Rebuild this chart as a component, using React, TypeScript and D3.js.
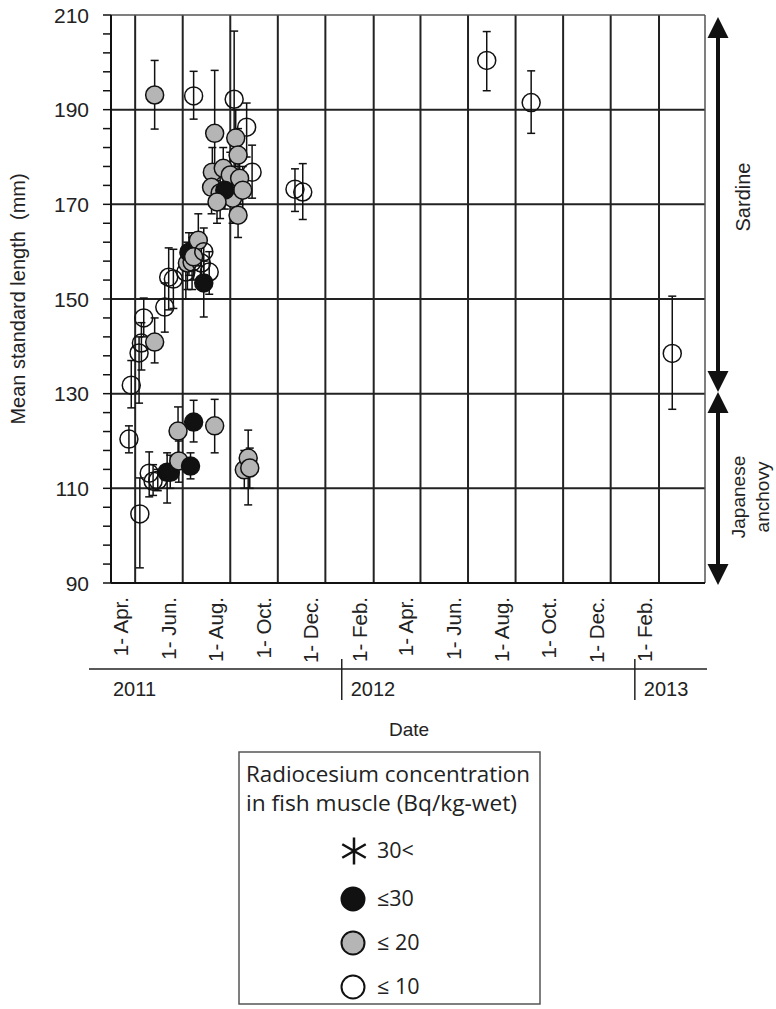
import React from "react";
import * as d3 from "d3";

// ---- data ----
const pointDates = [
  "2011-03-27", "2011-04-06", "2011-04-09", "2011-04-12", "2011-04-26", "2011-05-09", "2011-05-14",
  "2011-05-20", "2011-06-05", "2011-06-07", "2011-06-09", "2011-06-13", "2011-06-21", "2011-06-25",
  "2011-06-28", "2011-07-05", "2011-06-15", "2011-04-26", "2011-07-12", "2011-08-06", "2011-08-22",
  "2011-08-29", "2011-08-08", "2011-08-11", "2011-07-09", "2011-07-23", "2011-08-01", "2011-08-13",
  "2011-07-08", "2011-07-19", "2011-08-04", "2011-08-17", "2011-07-25", "2011-08-11", "2011-07-15",
  "2011-06-15", "2011-06-28", "2011-10-23", "2011-11-02", "2012-06-25", "2012-08-21", "2013-02-18",
  "2011-03-24", "2011-04-07", "2011-04-19", "2011-04-24", "2011-04-30", "2011-05-12", "2011-05-16",
  "2011-05-27", "2011-05-26", "2011-06-11", "2011-06-15", "2011-07-12", "2011-08-19", "2011-08-24",
  "2011-08-26",
];
const meanLengths = [
  131.8, 138.6, 140.7, 146.0, 140.9, 148.3, 154.6,
  154.2, 155.7, 157.6, 159.9, 157.8, 162.4, 157.6,
  153.4, 155.7, 192.9, 193.1, 185.0, 192.2, 186.3,
  176.8, 184.0, 180.4, 176.8, 177.6, 176.2, 175.5,
  173.6, 172.4, 171.3, 173.0, 173.0, 167.7, 170.5,
  158.9, 160.0, 173.2, 172.6, 200.4, 191.5, 138.5,
  120.4, 104.6, 113.2, 111.5, 111.7, 113.4, 113.4,
  115.8, 122.1, 114.7, 124.0, 123.2, 113.9, 116.4,
  114.3,
];
const errLow = [
  127.0, 128.0, 135.0, 142.0, 136.5, 143.0, 147.7,
  148.0, 150.0, 152.0, 155.0, 152.0, 157.0, 153.0,
  146.2, 151.0, 188.0, 185.9, 170.0, 168.0, 180.0,
  171.3, 178.0, 174.0, 172.0, 173.0, 171.0, 170.0,
  168.0, 167.0, 166.0, 168.0, 169.0, 163.0, 166.0,
  154.0, 155.0, 168.5, 166.8, 194.0, 185.0, 126.7,
  117.5, 93.2, 108.2, 108.5, 109.5, 106.9, 110.0,
  111.3, 117.0, 112.0, 119.8, 117.5, 110.0, 106.5,
  110.0,
];
const errHigh = [
  137.0, 142.0, 145.0, 150.2, 146.0, 153.4, 160.8,
  160.5, 161.0, 162.0, 164.0, 163.0, 168.0, 162.0,
  158.0, 160.0, 198.1, 200.4, 198.3, 206.6, 191.4,
  182.5, 190.0, 186.0, 182.0, 182.0, 181.0, 181.0,
  178.0, 177.0, 176.0, 178.0, 177.0, 172.0, 175.0,
  164.0, 165.0, 177.5, 178.6, 206.5, 198.2, 150.6,
  123.2, 112.2, 117.7, 115.0, 114.0, 117.5, 117.0,
  120.0, 127.2, 117.5, 128.6, 128.8, 118.0, 122.3,
  118.5,
];
// concentration class: "w" <=10, "g" <=20, "b" <=30
const concClass = [
  "w", "w", "w", "w", "g", "w", "w",
  "w", "w", "g", "b", "w", "g", "w",
  "b", "w", "w", "g", "g", "w", "w",
  "w", "g", "g", "g", "g", "g", "g",
  "g", "g", "g", "g", "b", "g", "g",
  "g", "w", "w", "w", "w", "w", "w",
  "w", "w", "w", "w", "w", "b", "b",
  "g", "g", "b", "b", "g", "g", "g",
  "g",
];

const tickDates = [
  "2011-04-01", "2011-06-01", "2011-08-01", "2011-10-01", "2011-12-01",
  "2012-02-01", "2012-04-01", "2012-06-01", "2012-08-01", "2012-10-01", "2012-12-01",
  "2013-02-01",
];
const tickLabels = [
  "1- Apr.", "1- Jun.", "1- Aug.", "1- Oct.", "1- Dec.",
  "1- Feb.", "1- Apr.", "1- Jun.", "1- Aug.", "1- Oct.", "1- Dec.",
  "1- Feb.",
];
const yearLabels = ["2011", "2012", "2013"];
const yearSeparators = ["2011-12-22", "2013-01-01"];
const yTicks = [90, 110, 130, 150, 170, 190, 210];
const legendLabels = ["30<", "\u226430", "\u2264 20", "\u2264 10"];
const legendClasses = ["x", "b", "g", "w"];

const FONT = "'Liberation Sans', Arial, Helvetica, sans-serif";
const LFONT = "'Open Sans', 'Noto Sans', sans-serif";

const parse = d3.utcParse("%Y-%m-%d");

const fillFor = (c: string) => (c === "b" ? "#111" : c === "g" ? "#b5b5b5" : "none");

export default function App() {
  const W = 776, H = 1009;
  const x = d3
    .scaleUtc()
    .domain([new Date(Date.UTC(2011, 2, 1)), new Date(Date.UTC(2013, 3, 1))])
    .range([111, 705]);
  const y = d3.scaleLinear().domain([90, 210]).range([583, 15]);
  const [x0, x1] = x.range();
  const [yb, yt] = y.range();
  const minor = d3.range(90, 210.001, 4);
  const cap = 4;
  const r = 9;

  const pts = pointDates.map((d, i) => ({
    date: parse(d)!,
    v: meanLengths[i],
    lo: errLow[i],
    hi: errHigh[i],
    c: concClass[i],
  }));

  const arrowX = 718;
  const head = (tipY: number, dir: number) =>
    `M${arrowX},${tipY} L${arrowX - 10.5},${tipY + dir * 21} L${arrowX + 10.5},${tipY + dir * 21} Z`;

  const asterisk = d3.symbol(d3.symbolAsterisk, 520)()!;

  return (
    <svg
      width={W}
      height={H}
      style={{ position: "absolute", left: 0, top: 0, background: "#fff" }}
      fontFamily={FONT}
    >
      {/* vertical grid lines */}
      {tickDates.map((d, i) => (
        <line key={"vg" + i} x1={x(parse(d)!)} x2={x(parse(d)!)} y1={yt} y2={yb} stroke="#222" strokeWidth={2} />
      ))}
      {/* horizontal grid lines */}
      {yTicks.slice(1, -1).map((t) => (
        <line key={"hg" + t} x1={x0} x2={x1} y1={y(t)} y2={y(t)} stroke="#222" strokeWidth={2} />
      ))}
      {/* frame */}
      <line x1={x0} x2={x1} y1={yt} y2={yt} stroke="#555" strokeWidth={1.5} />
      <line x1={x1} x2={x1} y1={yt} y2={yb} stroke="#555" strokeWidth={1.5} />
      <line x1={x0} x2={x0} y1={yt} y2={yb} stroke="#111" strokeWidth={2} />
      <line x1={x0} x2={x1} y1={yb} y2={yb} stroke="#111" strokeWidth={2} />
      {/* y ticks */}
      {minor.map((t) => (
        <line key={"mt" + t} x1={x0 - 8} x2={x0} y1={y(t)} y2={y(t)} stroke="#111" strokeWidth={1.5} />
      ))}
      {yTicks.map((t) => (
        <text key={"yl" + t} x={89} y={y(t)} dy="0.36em" textAnchor="end" fontSize={21} fill="#222">
          {t}
        </text>
      ))}
      <text
        transform={`translate(25,${(yt + yb) / 2}) rotate(-90)`}
        textAnchor="middle"
        fontSize={20}
        fill="#222"
        style={{ whiteSpace: "pre" }}
      >
        {"Mean standard length  (mm)"}
      </text>
      {/* x tick labels */}
      {tickDates.map((d, i) => (
        <text
          key={"xl" + i}
          transform={`translate(${x(parse(d)!) - 7},${yb + 14}) rotate(-90)`}
          textAnchor="end"
          fontSize={20.5}
          fill="#222"
        >
          {tickLabels[i]}
        </text>
      ))}
      {/* year row */}
      <line x1={89} x2={707} y1={669} y2={669} stroke="#222" strokeWidth={1.5} />
      {yearSeparators.map((d, i) => (
        <line key={"ys" + i} x1={x(parse(d)!)} x2={x(parse(d)!)} y1={659} y2={700} stroke="#222" strokeWidth={1.5} />
      ))}
      {yearLabels.map((t, i) => (
        <text
          key={"yr" + t}
          x={i === 0 ? x0 + 2 : x(parse(yearSeparators[i - 1])!) + 9}
          y={696}
          fontSize={20}
          fill="#222"
        >
          {t}
        </text>
      ))}
      <text x={409} y={736} textAnchor="middle" fontSize={19} fill="#222">
        Date
      </text>

      {/* error bars */}
      {pts.map((p, i) => {
        const cx = x(p.date);
        return (
          <g key={"eb" + i} stroke="#111" strokeWidth={1.5}>
            <line x1={cx} x2={cx} y1={y(p.lo)} y2={y(p.hi)} />
            <line x1={cx - cap} x2={cx + cap} y1={y(p.lo)} y2={y(p.lo)} />
            <line x1={cx - cap} x2={cx + cap} y1={y(p.hi)} y2={y(p.hi)} />
          </g>
        );
      })}
      {/* points */}
      {pts.map((p, i) => (
        <circle
          key={"pt" + i}
          cx={x(p.date)}
          cy={y(p.v)}
          r={r}
          fill={fillFor(p.c)}
          stroke="#111"
          strokeWidth={1.5}
        />
      ))}

      {/* species arrows */}
      <g fill="#111" stroke="none">
        <line x1={arrowX} x2={arrowX} y1={yt + 15} y2={392 - 15} stroke="#111" strokeWidth={4} />
        <path d={head(yt + 2, 1)} />
        <path d={head(392, -1)} />
        <line x1={arrowX} x2={arrowX} y1={392 + 15} y2={yb - 13} stroke="#111" strokeWidth={4} />
        <path d={head(392, 1)} />
        <path d={head(yb + 2, -1)} />
      </g>
      <text transform={`translate(750,197) rotate(-90)`} textAnchor="middle" fontSize={20} fill="#222">
        Sardine
      </text>
      <text transform={`translate(745,497) rotate(-90)`} textAnchor="middle" fontSize={19} fill="#222">
        Japanese
      </text>
      <text transform={`translate(769,497) rotate(-90)`} textAnchor="middle" fontSize={19} fill="#222">
        anchovy
      </text>

      {/* legend */}
      <rect x={239} y={752} width={301} height={252} fill="#fff" stroke="#555" strokeWidth={1.5} />
      <text x={246} y={782} fontSize={21.5} fontFamily={LFONT} fill="#222" textLength={284} lengthAdjust="spacingAndGlyphs">
        Radiocesium concentration
      </text>
      <text x={246} y={811} fontSize={21.5} fontFamily={LFONT} fill="#222" textLength={271} lengthAdjust="spacingAndGlyphs">
        in fish muscle (Bq/kg-wet)
      </text>
      {legendLabels.map((t, i) => {
        const cy = [851, 899, 943, 987][i];
        const c = legendClasses[i];
        return (
          <g key={"lg" + i}>
            {c === "x" ? (
              <path d={asterisk} transform={`translate(354,${cy})`} fill="none" stroke="#111" strokeWidth={2.5} />
            ) : (
              <circle cx={353} cy={cy} r={11.5} fill={c === "w" ? "#fff" : fillFor(c)} stroke="#111" strokeWidth={2} />
            )}
            <text x={377} y={cy + 7} fontSize={21.5} fontFamily={LFONT} fill="#222">
              {t}
            </text>
          </g>
        );
      })}
    </svg>
  );
}
